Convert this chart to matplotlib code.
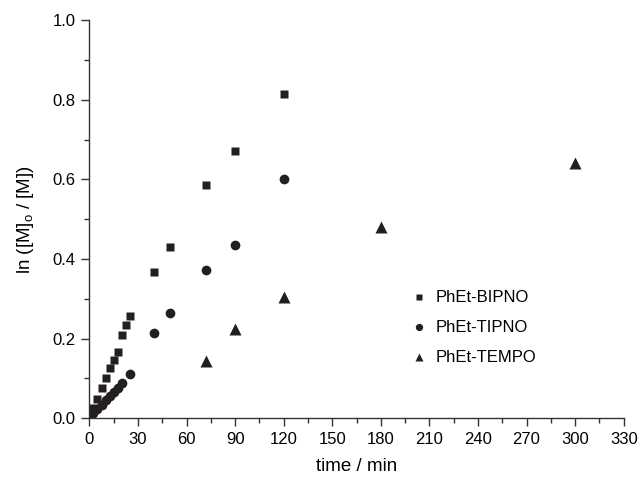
import matplotlib
matplotlib.use('Agg')
import matplotlib.pyplot as plt

plt.rcParams['font.family'] = ['Liberation Sans', 'DejaVu Sans']
plt.rcParams['mathtext.fontset'] = 'custom'
plt.rcParams['mathtext.rm'] = 'Liberation Sans'

# time / min and ln([M]0/[M])
t_bipno = [1, 2.5, 5, 7.5, 10, 12.5, 15, 17.5, 20, 22.5, 25, 40, 50, 72, 90, 120]
y_bipno = [0.012, 0.025, 0.049, 0.077, 0.101, 0.126, 0.146, 0.165, 0.209, 0.234, 0.257,
           0.368, 0.430, 0.585, 0.672, 0.815]

t_tipno = [1, 2.5, 5, 7.5, 10, 12.5, 15, 17.5, 20, 25, 40, 50, 72, 90, 120]
y_tipno = [0.006, 0.012, 0.022, 0.033, 0.045, 0.055, 0.066, 0.077, 0.088, 0.110,
           0.215, 0.265, 0.372, 0.436, 0.602]

t_tempo = [72, 90, 120, 180, 300]
y_tempo = [0.143, 0.224, 0.305, 0.481, 0.642]

labels = ['PhEt-BIPNO', 'PhEt-TIPNO', 'PhEt-TEMPO']

col = '#231f20'
fig = plt.figure(figsize=(6.43, 4.79), dpi=100)
ax = fig.add_axes([0.139, 0.127, 0.831, 0.831])

ax.plot(t_bipno, y_bipno, 's', ms=6, color=col, mec='none', label=labels[0])
ax.plot(t_tipno, y_tipno, 'o', ms=7, color=col, mec='none', label=labels[1])
ax.plot(t_tempo, y_tempo, '^', ms=8, color=col, mec='none', label=labels[2])

ax.set_xlim(0, 330)
ax.set_ylim(0, 1.0)
ax.set_xticks(range(0, 331, 30))
ax.set_xticks(range(15, 330, 30), minor=True)
ax.set_yticks([0, 0.2, 0.4, 0.6, 0.8, 1.0])
ax.set_yticks([0.1, 0.3, 0.5, 0.7, 0.9], minor=True)
ax.set_yticklabels(['0.0', '0.2', '0.4', '0.6', '0.8', '1.0'])

for s in ['top', 'right']:
    ax.spines[s].set_visible(False)
for s in ['left', 'bottom']:
    ax.spines[s].set_color('#333333')
    ax.spines[s].set_linewidth(1.0)
ax.tick_params(which='major', length=6, width=1.0, color='#333333', labelsize=12, pad=4)
ax.tick_params(which='minor', length=3.5, width=1.0, color='#333333')

ax.set_xlabel('time / min', fontsize=13.5, labelpad=8)
ax.set_ylabel(r'ln ([M]$_\mathregular{o}$ / [M])', fontsize=13.5, labelpad=12)

ax.legend(loc='upper left', bbox_to_anchor=(0.615, 0.425), bbox_transform=fig.transFigure,
          frameon=False, fontsize=12, markerscale=0.75, handletextpad=0.5,
          labelspacing=0.9, handlelength=1.0)

fig.savefig('out.png', dpi=100)
